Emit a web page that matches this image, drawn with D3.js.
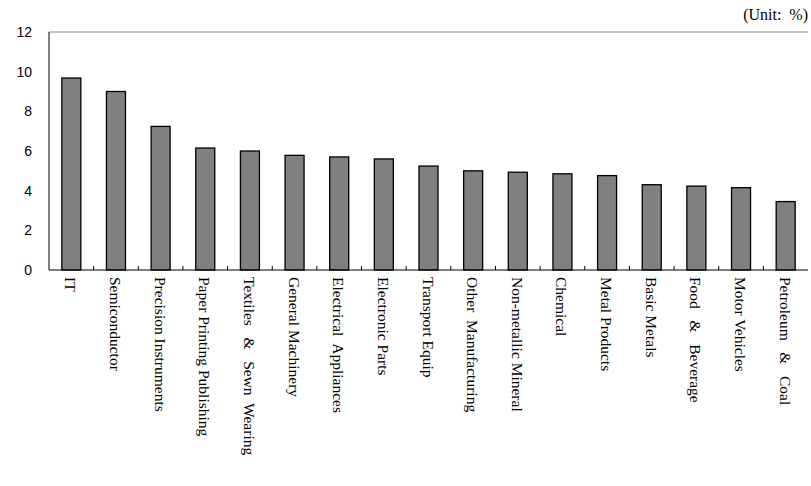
<!DOCTYPE html>
<html><head><meta charset="utf-8">
<script src="https://cdn.jsdelivr.net/npm/d3@7"></script>
<style>body{margin:0;background:#fff}</style>
</head><body><svg id="c" width="811" height="486"></svg>
<script>
const categories=["IT","Semiconductor","Precision Instruments","Paper Printing Publishing","Textiles   &   Sewn  Wearing","General Machinery","Electrical  Appliances","Electronic Parts","Transport Equip","Other  Manufacturing","Non-metallic Mineral","Chemical","Metal Products","Basic Metals","Food   &   Beverage","Motor Vehicles","Petroleum   &   Coal"];
const values=[9.68,9.0,7.24,6.15,6.0,5.78,5.7,5.6,5.24,5.0,4.93,4.85,4.76,4.3,4.23,4.15,3.45];
const yTicks=[0,2,4,6,8,10,12];

const svg=d3.select("#c");
const L=49,R=808,T=32,B=270;
const x=d3.scaleBand().domain(categories).range([L,R]);
const y=d3.scaleLinear().domain([0,12]).range([B,T]);

svg.append("line").attr("x1",L).attr("x2",R).attr("y1",T).attr("y2",T).attr("stroke","#888").attr("stroke-width",1);
svg.selectAll("rect.bar").data(values).enter().append("rect")
  .attr("x",(d,i)=>x(categories[i])+x.bandwidth()/2-9.5)
  .attr("width",19)
  .attr("y",d=>y(d))
  .attr("height",d=>B-y(d))
  .attr("fill","#808080").attr("stroke","#000").attr("stroke-width",1.3);

svg.append("line").attr("x1",L).attr("x2",L).attr("y1",T).attr("y2",B).attr("stroke","#000");
svg.append("line").attr("x1",L).attr("x2",R).attr("y1",B).attr("y2",B).attr("stroke","#000");
svg.selectAll("line.sep").data(categories.slice(1)).enter().append("line")
  .attr("x1",d=>x(d)).attr("x2",d=>x(d)).attr("y1",B-4).attr("y2",B).attr("stroke","#000");

svg.selectAll("text.yt").data(yTicks).enter().append("text")
  .attr("x",32).attr("y",d=>y(d)+5).attr("text-anchor","end")
  .attr("font-family","Liberation Sans, Arial").attr("font-size",14).text(d=>d);

svg.selectAll("text.xl").data(categories).enter().append("text")
  .attr("transform",d=>`translate(${x(d)+x.bandwidth()/2-6},277) rotate(90)`)
  .attr("font-family","Liberation Serif, Times New Roman, serif").attr("font-size",15.5)
  .style("white-space","pre").text(d=>d);

svg.append("text").attr("x",808).attr("y",20).attr("text-anchor","end")
  .attr("font-family","Liberation Serif, Times New Roman, serif").attr("font-size",16).style("white-space","pre").text("(Unit:  %)");
</script></body></html>
